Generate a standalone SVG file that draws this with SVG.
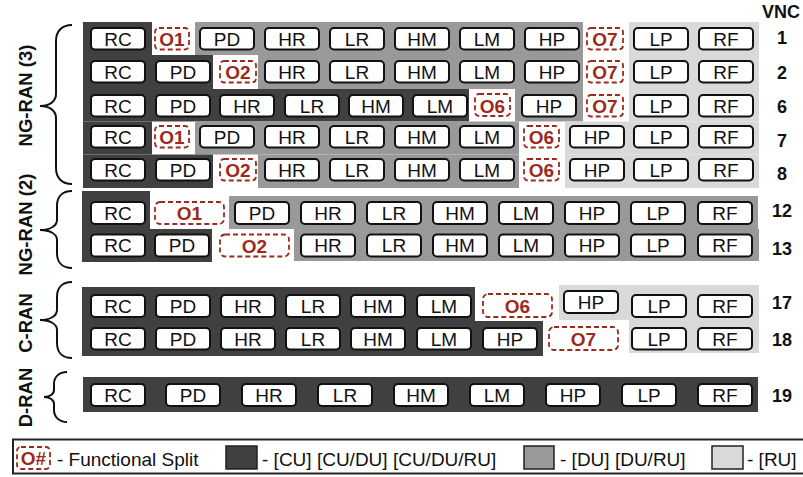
<svg xmlns="http://www.w3.org/2000/svg" width="803" height="477" viewBox="0 0 803 477">
<style>
.dk{fill:#404040}.md{fill:#999999}.lt{fill:#d9d9d9}
.b rect{fill:#fff;stroke:#111;stroke-width:2}
.b text{font-family:"Liberation Sans",Arial,sans-serif;font-size:19px;fill:#111;text-anchor:middle}
.o rect{fill:#fff;stroke:#9c2a1c;stroke-width:1.8;stroke-dasharray:5 3}
.o text{font-family:"Liberation Sans",Arial,sans-serif;font-size:19px;font-weight:bold;fill:#9c2a1c;text-anchor:middle}
.lbl{font-family:"Liberation Sans",Arial,sans-serif;font-size:18px;font-weight:bold;fill:#111;text-anchor:middle}
.rl{font-size:18.5px}
.leg{font-family:"Liberation Sans",Arial,sans-serif;font-size:19px;fill:#111}
.br{fill:none;stroke:#111;stroke-width:2}
.sw{stroke:#222;stroke-width:1.5}
</style>
<rect width="803" height="477" fill="#fff"/>
<g id="backgrounds">
<rect class="dk" x="83" y="22" width="69" height="33"/><rect class="md" x="195" y="22" width="388" height="33"/><rect class="lt" x="629" y="22" width="130" height="33"/>
<rect class="dk" x="83" y="55" width="130" height="34"/><rect class="md" x="258" y="55" width="325" height="34"/><rect class="lt" x="629" y="55" width="130" height="34"/>
<rect class="dk" x="83" y="89" width="386" height="32.5"/><rect class="md" x="515" y="89" width="68" height="32.5"/><rect class="lt" x="629" y="89" width="130" height="32.5"/>
<rect class="dk" x="83" y="121.5" width="69" height="33"/><rect class="md" x="195" y="121.5" width="324" height="33"/><rect class="lt" x="565" y="121.5" width="194" height="33"/>
<rect class="dk" x="83" y="154.5" width="130" height="33.5"/><rect class="md" x="258" y="154.5" width="261" height="33.5"/><rect class="lt" x="565" y="154.5" width="194" height="33.5"/>
<rect class="dk" x="82" y="191" width="68" height="38"/><rect class="md" x="229" y="196" width="529" height="33"/>
<rect class="dk" x="82" y="229" width="130" height="33"/><rect class="md" x="294" y="229" width="465" height="32"/>
<rect class="dk" x="82" y="287" width="393" height="34"/><rect class="lt" x="559" y="285" width="200" height="35"/>
<rect class="dk" x="82" y="321" width="461" height="35"/><rect class="lt" x="629" y="320" width="130" height="33"/>
<rect class="dk" x="83" y="377" width="675" height="35"/>
</g>
<g id="braces">
<path class="br" d="M72,25 C62,25 56,31 56,41 L56,94 C56,101 50,106 40,106 C50,106 56,111 56,118 L56,168 C56,178 62,184 72,184"/>
<path class="br" d="M72,191 C62,191 57,197 57,206 L57,220 C57,226 50,230 40,230 C50,230 57,234 57,240 L57,253 C57,262 62,268 72,268"/>
<path class="br" d="M72,282 C62,282 57,288 57,297 L57,310 C57,316 50,320 40,320 C50,320 57,324 57,330 L57,343 C57,352 62,358 72,358"/>
<path class="br" d="M67,372 C59,372 54,377 54,384 L54,390 C54,394 50,397 44,397 C50,397 54,400 54,404 L54,410 C54,417 59,422 67,422"/>
</g>
<g id="labels">
<text class="lbl rl" transform="translate(31.5,95.5) rotate(-90)">NG-RAN (3)</text>
<text class="lbl rl" transform="translate(31.5,224.5) rotate(-90)">NG-RAN (2)</text>
<text class="lbl rl" transform="translate(31.5,323) rotate(-90)">C-RAN</text>
<text class="lbl rl" transform="translate(31.5,397.5) rotate(-90)">D-RAN</text>
<text class="lbl" x="781" y="18">VNC</text>
<text class="lbl" x="782" y="44">1</text>
<text class="lbl" x="782" y="79">2</text>
<text class="lbl" x="782" y="113">6</text>
<text class="lbl" x="782" y="147">7</text>
<text class="lbl" x="782" y="180">8</text>
<text class="lbl" x="782" y="217">12</text>
<text class="lbl" x="782" y="255">13</text>
<text class="lbl" x="782" y="309">17</text>
<text class="lbl" x="782" y="346">18</text>
<text class="lbl" x="782" y="402">19</text>
</g>
<g id="vnc1">
<g id="v1-RC" class="b"><rect x="91" y="28" width="54" height="21.5" rx="4"/><text x="118" y="45.5">RC</text></g>
<g id="v1-O1" class="o"><rect x="155" y="28" width="34" height="21.5" rx="4"/><text x="172" y="46">O1</text></g>
<g id="v1-PD" class="b"><rect x="200" y="28" width="54" height="21.5" rx="4"/><text x="227" y="45.5">PD</text></g>
<g id="v1-HR" class="b"><rect x="265" y="28" width="54" height="21.5" rx="4"/><text x="292" y="45.5">HR</text></g>
<g id="v1-LR" class="b"><rect x="330" y="28" width="54" height="21.5" rx="4"/><text x="357" y="45.5">LR</text></g>
<g id="v1-HM" class="b"><rect x="395" y="28" width="54" height="21.5" rx="4"/><text x="422" y="45.5">HM</text></g>
<g id="v1-LM" class="b"><rect x="460" y="28" width="54" height="21.5" rx="4"/><text x="487" y="45.5">LM</text></g>
<g id="v1-HP" class="b"><rect x="525" y="28" width="54" height="21.5" rx="4"/><text x="552" y="45.5">HP</text></g>
<g id="v1-O7" class="o"><rect x="587" y="28" width="36" height="21.5" rx="4"/><text x="605" y="46">O7</text></g>
<g id="v1-LP" class="b"><rect x="634" y="28" width="54" height="21.5" rx="4"/><text x="661" y="45.5">LP</text></g>
<g id="v1-RF" class="b"><rect x="699" y="28" width="54" height="21.5" rx="4"/><text x="726" y="45.5">RF</text></g>
</g>
<g id="vnc2">
<g id="v2-RC" class="b"><rect x="91" y="61" width="54" height="21.5" rx="4"/><text x="118" y="78.5">RC</text></g>
<g id="v2-PD" class="b"><rect x="156" y="61" width="54" height="21.5" rx="4"/><text x="183" y="78.5">PD</text></g>
<g id="v2-O2" class="o"><rect x="220" y="61" width="36" height="21.5" rx="4"/><text x="238" y="79">O2</text></g>
<g id="v2-HR" class="b"><rect x="265" y="61" width="54" height="21.5" rx="4"/><text x="292" y="78.5">HR</text></g>
<g id="v2-LR" class="b"><rect x="330" y="61" width="54" height="21.5" rx="4"/><text x="357" y="78.5">LR</text></g>
<g id="v2-HM" class="b"><rect x="395" y="61" width="54" height="21.5" rx="4"/><text x="422" y="78.5">HM</text></g>
<g id="v2-LM" class="b"><rect x="460" y="61" width="54" height="21.5" rx="4"/><text x="487" y="78.5">LM</text></g>
<g id="v2-HP" class="b"><rect x="525" y="61" width="54" height="21.5" rx="4"/><text x="552" y="78.5">HP</text></g>
<g id="v2-O7" class="o"><rect x="587" y="61" width="36" height="21.5" rx="4"/><text x="605" y="79">O7</text></g>
<g id="v2-LP" class="b"><rect x="634" y="61" width="54" height="21.5" rx="4"/><text x="661" y="78.5">LP</text></g>
<g id="v2-RF" class="b"><rect x="699" y="61" width="54" height="21.5" rx="4"/><text x="726" y="78.5">RF</text></g>
</g>
<g id="vnc6">
<g id="v6-RC" class="b"><rect x="91" y="95" width="54" height="21.5" rx="4"/><text x="118" y="112.5">RC</text></g>
<g id="v6-PD" class="b"><rect x="156" y="95" width="54" height="21.5" rx="4"/><text x="183" y="112.5">PD</text></g>
<g id="v6-HR" class="b"><rect x="220" y="95" width="54" height="21.5" rx="4"/><text x="247" y="112.5">HR</text></g>
<g id="v6-LR" class="b"><rect x="285" y="95" width="54" height="21.5" rx="4"/><text x="312" y="112.5">LR</text></g>
<g id="v6-HM" class="b"><rect x="349" y="95" width="54" height="21.5" rx="4"/><text x="376" y="112.5">HM</text></g>
<g id="v6-LM" class="b"><rect x="413" y="95" width="54" height="21.5" rx="4"/><text x="440" y="112.5">LM</text></g>
<g id="v6-O6" class="o"><rect x="475" y="94" width="35" height="22" rx="4"/><text x="492.5" y="112.5">O6</text></g>
<g id="v6-HP" class="b"><rect x="522" y="95" width="54" height="21.5" rx="4"/><text x="549" y="112.5">HP</text></g>
<g id="v6-O7" class="o"><rect x="587" y="95" width="36" height="21.5" rx="4"/><text x="605" y="113">O7</text></g>
<g id="v6-LP" class="b"><rect x="634" y="95" width="54" height="21.5" rx="4"/><text x="661" y="112.5">LP</text></g>
<g id="v6-RF" class="b"><rect x="699" y="95" width="54" height="21.5" rx="4"/><text x="726" y="112.5">RF</text></g>
</g>
<g id="vnc7">
<g id="v7-RC" class="b"><rect x="91" y="126" width="54" height="21.5" rx="4"/><text x="118" y="143.5">RC</text></g>
<g id="v7-O1" class="o"><rect x="155" y="126" width="34" height="21.5" rx="4"/><text x="172" y="144">O1</text></g>
<g id="v7-PD" class="b"><rect x="200" y="126" width="54" height="21.5" rx="4"/><text x="227" y="143.5">PD</text></g>
<g id="v7-HR" class="b"><rect x="265" y="126" width="54" height="21.5" rx="4"/><text x="292" y="143.5">HR</text></g>
<g id="v7-LR" class="b"><rect x="330" y="126" width="54" height="21.5" rx="4"/><text x="357" y="143.5">LR</text></g>
<g id="v7-HM" class="b"><rect x="395" y="126" width="54" height="21.5" rx="4"/><text x="422" y="143.5">HM</text></g>
<g id="v7-LM" class="b"><rect x="460" y="126" width="54" height="21.5" rx="4"/><text x="487" y="143.5">LM</text></g>
<g id="v7-O6" class="o"><rect x="524" y="126" width="35" height="21.5" rx="4"/><text x="541.5" y="144">O6</text></g>
<g id="v7-HP" class="b"><rect x="570" y="126" width="54" height="21.5" rx="4"/><text x="597" y="143.5">HP</text></g>
<g id="v7-LP" class="b"><rect x="634" y="126" width="54" height="21.5" rx="4"/><text x="661" y="143.5">LP</text></g>
<g id="v7-RF" class="b"><rect x="699" y="126" width="54" height="21.5" rx="4"/><text x="726" y="143.5">RF</text></g>
</g>
<g id="vnc8">
<g id="v8-RC" class="b"><rect x="91" y="159" width="54" height="21.5" rx="4"/><text x="118" y="176.5">RC</text></g>
<g id="v8-PD" class="b"><rect x="156" y="159" width="54" height="21.5" rx="4"/><text x="183" y="176.5">PD</text></g>
<g id="v8-O2" class="o"><rect x="220" y="159" width="36" height="21.5" rx="4"/><text x="238" y="177">O2</text></g>
<g id="v8-HR" class="b"><rect x="265" y="159" width="54" height="21.5" rx="4"/><text x="292" y="176.5">HR</text></g>
<g id="v8-LR" class="b"><rect x="330" y="159" width="54" height="21.5" rx="4"/><text x="357" y="176.5">LR</text></g>
<g id="v8-HM" class="b"><rect x="395" y="159" width="54" height="21.5" rx="4"/><text x="422" y="176.5">HM</text></g>
<g id="v8-LM" class="b"><rect x="460" y="159" width="54" height="21.5" rx="4"/><text x="487" y="176.5">LM</text></g>
<g id="v8-O6" class="o"><rect x="524" y="159" width="35" height="21.5" rx="4"/><text x="541.5" y="177">O6</text></g>
<g id="v8-HP" class="b"><rect x="570" y="159" width="54" height="21.5" rx="4"/><text x="597" y="176.5">HP</text></g>
<g id="v8-LP" class="b"><rect x="634" y="159" width="54" height="21.5" rx="4"/><text x="661" y="176.5">LP</text></g>
<g id="v8-RF" class="b"><rect x="699" y="159" width="54" height="21.5" rx="4"/><text x="726" y="176.5">RF</text></g>
</g>
<g id="vnc12">
<g id="v12-RC" class="b"><rect x="91" y="202" width="54" height="22" rx="4"/><text x="118" y="219.5">RC</text></g>
<g id="v12-O1" class="o"><rect x="155" y="202" width="69" height="22" rx="5"/><text x="189.5" y="220">O1</text></g>
<g id="v12-PD" class="b"><rect x="235" y="202" width="54" height="22" rx="4"/><text x="262" y="219.5">PD</text></g>
<g id="v12-HR" class="b"><rect x="301" y="202" width="54" height="22" rx="4"/><text x="328" y="219.5">HR</text></g>
<g id="v12-LR" class="b"><rect x="367" y="202" width="54" height="22" rx="4"/><text x="394" y="219.5">LR</text></g>
<g id="v12-HM" class="b"><rect x="433" y="202" width="54" height="22" rx="4"/><text x="460" y="219.5">HM</text></g>
<g id="v12-LM" class="b"><rect x="499" y="202" width="54" height="22" rx="4"/><text x="526" y="219.5">LM</text></g>
<g id="v12-HP" class="b"><rect x="565" y="202" width="54" height="22" rx="4"/><text x="592" y="219.5">HP</text></g>
<g id="v12-LP" class="b"><rect x="631" y="202" width="54" height="22" rx="4"/><text x="658" y="219.5">LP</text></g>
<g id="v12-RF" class="b"><rect x="698" y="202" width="54" height="22" rx="4"/><text x="725" y="219.5">RF</text></g>
</g>
<g id="vnc13">
<g id="v13-RC" class="b"><rect x="91" y="234.5" width="54" height="22" rx="4"/><text x="118" y="252">RC</text></g>
<g id="v13-PD" class="b"><rect x="155" y="234.5" width="54" height="22" rx="4"/><text x="182" y="252">PD</text></g>
<g id="v13-O2" class="o"><rect x="220" y="234.5" width="69" height="22" rx="5"/><text x="254.5" y="252.5">O2</text></g>
<g id="v13-HR" class="b"><rect x="301" y="234.5" width="54" height="22" rx="4"/><text x="328" y="252">HR</text></g>
<g id="v13-LR" class="b"><rect x="367" y="234.5" width="54" height="22" rx="4"/><text x="394" y="252">LR</text></g>
<g id="v13-HM" class="b"><rect x="433" y="234.5" width="54" height="22" rx="4"/><text x="460" y="252">HM</text></g>
<g id="v13-LM" class="b"><rect x="499" y="234.5" width="54" height="22" rx="4"/><text x="526" y="252">LM</text></g>
<g id="v13-HP" class="b"><rect x="565" y="234.5" width="54" height="22" rx="4"/><text x="592" y="252">HP</text></g>
<g id="v13-LP" class="b"><rect x="631" y="234.5" width="54" height="22" rx="4"/><text x="658" y="252">LP</text></g>
<g id="v13-RF" class="b"><rect x="698" y="234.5" width="54" height="22" rx="4"/><text x="725" y="252">RF</text></g>
</g>
<g id="vnc17">
<g id="v17-RC" class="b"><rect x="91" y="295" width="54" height="22" rx="4"/><text x="118" y="312.5">RC</text></g>
<g id="v17-PD" class="b"><rect x="156" y="295" width="54" height="22" rx="4"/><text x="183" y="312.5">PD</text></g>
<g id="v17-HR" class="b"><rect x="221" y="295" width="54" height="22" rx="4"/><text x="248" y="312.5">HR</text></g>
<g id="v17-LR" class="b"><rect x="286" y="295" width="54" height="22" rx="4"/><text x="313" y="312.5">LR</text></g>
<g id="v17-HM" class="b"><rect x="351" y="295" width="54" height="22" rx="4"/><text x="378" y="312.5">HM</text></g>
<g id="v17-LM" class="b"><rect x="417" y="295" width="54" height="22" rx="4"/><text x="444" y="312.5">LM</text></g>
<g id="v17-O6" class="o"><rect x="483" y="294" width="69" height="23" rx="5"/><text x="517.5" y="313">O6</text></g>
<g id="v17-HP" class="b"><rect x="564" y="291" width="54" height="22" rx="4"/><text x="591" y="308.5">HP</text></g>
<g id="v17-LP" class="b"><rect x="632" y="295" width="54" height="22" rx="4"/><text x="659" y="312.5">LP</text></g>
<g id="v17-RF" class="b"><rect x="698" y="295" width="54" height="22" rx="4"/><text x="725" y="312.5">RF</text></g>
</g>
<g id="vnc18">
<g id="v18-RC" class="b"><rect x="91" y="328" width="54" height="21.5" rx="4"/><text x="118" y="345.5">RC</text></g>
<g id="v18-PD" class="b"><rect x="156" y="328" width="54" height="21.5" rx="4"/><text x="183" y="345.5">PD</text></g>
<g id="v18-HR" class="b"><rect x="221" y="328" width="54" height="21.5" rx="4"/><text x="248" y="345.5">HR</text></g>
<g id="v18-LR" class="b"><rect x="286" y="328" width="54" height="21.5" rx="4"/><text x="313" y="345.5">LR</text></g>
<g id="v18-HM" class="b"><rect x="351" y="328" width="54" height="21.5" rx="4"/><text x="378" y="345.5">HM</text></g>
<g id="v18-LM" class="b"><rect x="417" y="328" width="54" height="21.5" rx="4"/><text x="444" y="345.5">LM</text></g>
<g id="v18-HP" class="b"><rect x="483" y="328" width="54" height="21.5" rx="4"/><text x="510" y="345.5">HP</text></g>
<g id="v18-O7" class="o"><rect x="549" y="327" width="69" height="23" rx="5"/><text x="583.5" y="346">O7</text></g>
<g id="v18-LP" class="b"><rect x="632" y="328" width="54" height="21.5" rx="4"/><text x="659" y="345.5">LP</text></g>
<g id="v18-RF" class="b"><rect x="698" y="328" width="54" height="21.5" rx="4"/><text x="725" y="345.5">RF</text></g>
</g>
<g id="vnc19">
<g id="v19-RC" class="b"><rect x="91" y="384" width="54" height="22" rx="4"/><text x="118" y="401.5">RC</text></g>
<g id="v19-PD" class="b"><rect x="166" y="384" width="54" height="22" rx="4"/><text x="193" y="401.5">PD</text></g>
<g id="v19-HR" class="b"><rect x="242" y="384" width="54" height="22" rx="4"/><text x="269" y="401.5">HR</text></g>
<g id="v19-LR" class="b"><rect x="318" y="384" width="54" height="22" rx="4"/><text x="345" y="401.5">LR</text></g>
<g id="v19-HM" class="b"><rect x="394" y="384" width="54" height="22" rx="4"/><text x="421" y="401.5">HM</text></g>
<g id="v19-LM" class="b"><rect x="470" y="384" width="54" height="22" rx="4"/><text x="497" y="401.5">LM</text></g>
<g id="v19-HP" class="b"><rect x="546" y="384" width="54" height="22" rx="4"/><text x="573" y="401.5">HP</text></g>
<g id="v19-LP" class="b"><rect x="622" y="384" width="54" height="22" rx="4"/><text x="649" y="401.5">LP</text></g>
<g id="v19-RF" class="b"><rect x="698" y="384" width="54" height="22" rx="4"/><text x="725" y="401.5">RF</text></g>
</g>
<g id="legend">
<rect x="13" y="439.5" width="800" height="34" fill="#fff" stroke="#222" stroke-width="2"/>
<g id="leg-split" class="o"><rect x="17" y="447" width="33" height="22" rx="4"/><text x="33.5" y="465">O#</text></g>
<text class="leg" x="57" y="466">- Functional Split</text>
<rect class="dk sw" x="226" y="446" width="31" height="23"/>
<text class="leg" x="262" y="466">- [CU] [CU/DU] [CU/DU/RU]</text>
<rect class="md sw" x="524" y="446" width="30" height="23"/>
<text class="leg" x="560" y="466">- [DU] [DU/RU]</text>
<rect class="lt sw" x="712" y="446" width="31" height="23"/>
<text class="leg" x="747" y="466">- [RU]</text>
</g>
</svg>
